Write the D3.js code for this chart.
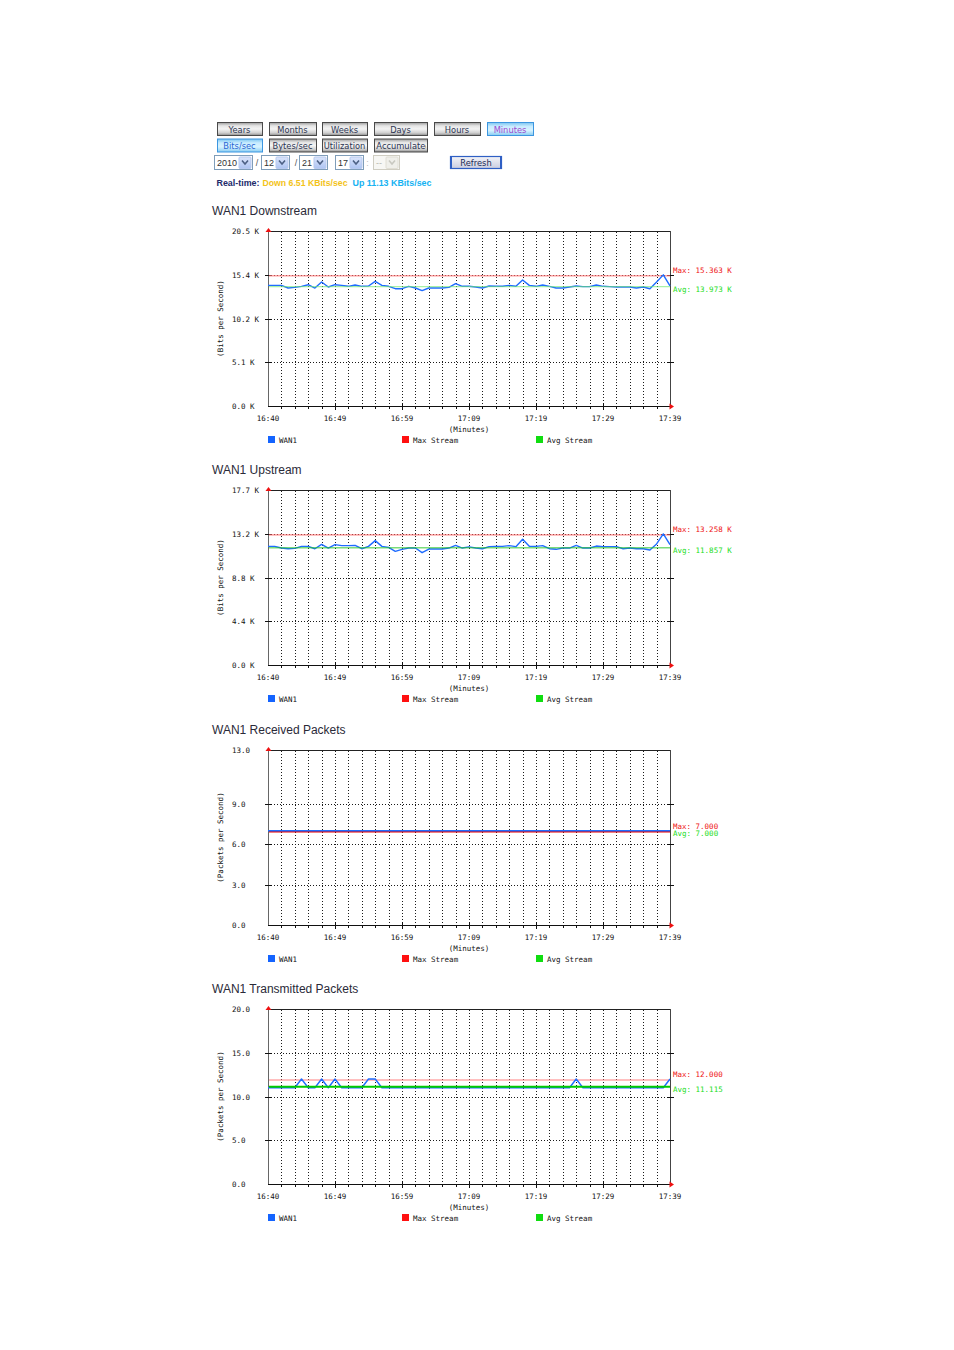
<!DOCTYPE html>
<html><head><meta charset="utf-8">
<script src="https://cdn.jsdelivr.net/npm/d3@7"></script>
<style>body{margin:0;background:#fff}svg{display:block}</style>
</head><body>
<svg id="c" width="954" height="1350"></svg>
<script>
// ---------------- data ----------------
const periodButtons = ["Years","Months","Weeks","Days","Hours","Minutes"];
const unitButtons = ["Bits/sec","Bytes/sec","Utilization","Accumulated"];
const selectValues = ["2010","12","21","17","--"];
const realtimeParts = ["Real-time:","Down 6.51 KBits/sec","Up 11.13 KBits/sec"];

const timeLabels = ["16:40","16:49","16:59","17:09","17:19","17:29","17:39"];
const timeLabelIdx = [0,10,20,30,40,50,60];
const chartTitles = ["WAN1 Downstream","WAN1 Upstream","WAN1 Received Packets","WAN1 Transmitted Packets"];
const yAxisTitles = ["(Bits per Second)","(Bits per Second)","(Packets per Second)","(Packets per Second)"];
const yMaxValues = [20.5, 17.7, 13.0, 20.0];
const yTickValues = [[0,5.1,10.2,15.4,20.5],[0,4.4,8.8,13.2,17.7],[0,3,6,9,13],[0,5,10,15,20]];
const yTickLabels = [["0.0 K","5.1 K","10.2 K","15.4 K","20.5 K"],
                     ["0.0 K","4.4 K","8.8 K","13.2 K","17.7 K"],
                     ["0.0","3.0","6.0","9.0","13.0"],
                     ["0.0","5.0","10.0","15.0","20.0"]];
const maxValues = [15.363, 13.258, 7.000, 12.000];
const avgValues = [13.973, 11.857, 7.000, 11.115];
const maxLabels = ["Max: 15.363 K","Max: 13.258 K","Max: 7.000","Max: 12.000"];
const avgLabels = ["Avg: 13.973 K","Avg: 11.857 K","Avg: 7.000","Avg: 11.115"];
const legendNames = ["WAN1","Max Stream","Avg Stream"];

const downstream = [14.13,14.13,14.13,13.82,13.90,14.02,14.21,13.82,14.52,13.94,
                    14.21,14.13,14.02,14.17,14.02,14.06,14.60,14.13,14.02,13.74,
                    13.74,14.02,13.82,13.51,13.82,13.82,13.82,13.90,14.33,14.02,
                    14.02,13.94,13.82,14.06,14.02,14.02,14.13,14.02,14.76,14.13,
                    14.02,14.17,14.02,13.82,13.82,13.94,14.06,13.98,13.98,14.17,
                    14.02,13.98,13.94,13.94,13.94,13.82,13.94,13.74,14.52,15.363,14.06];
const upstream = [12.00,12.00,11.83,11.76,11.80,12.00,12.00,11.76,12.20,11.83,
                  12.17,12.07,12.07,12.10,11.76,12.00,12.58,12.00,11.90,11.50,
                  11.70,11.83,11.83,11.36,11.73,11.73,11.73,11.83,12.10,11.83,
                  11.95,11.83,11.76,11.97,12.00,12.00,12.07,11.97,12.71,12.00,
                  12.00,12.07,11.76,11.70,11.83,11.83,12.10,11.83,11.83,12.03,
                  11.97,11.97,11.97,11.76,11.83,11.76,11.76,11.63,12.24,13.258,12.17];
const received = [7,7,7,7,7,7,7,7,7,7, 7,7,7,7,7,7,7,7,7,7, 7,7,7,7,7,7,7,7,7,7,
                  7,7,7,7,7,7,7,7,7,7, 7,7,7,7,7,7,7,7,7,7, 7,7,7,7,7,7,7,7,7,7, 7];
const transmitted = [11,11,11,11,11,12,11,11,12,11, 12,11,11,11,11,12,12,11,11,11,
                     11,11,11,11,11,11,11,11,11,11, 11,11,11,11,11,11,11,11,11,11,
                     11,11,11,11,11,11,12,11,11,11, 11,11,11,11,11,11,11,11,11,11, 12];
const seriesList = [downstream, upstream, received, transmitted];

// ---------------- styles ----------------
const avgColors = ["#6ee86e","#22c422","#00cc00","#00cc00"];
const avgWidths = [1.2,1.4,2,2];
const maxColors = ["#ff7373","#ff6a6a","#ee0000","#ff7f7f"];
const maxWidths = [1,1,1.6,1];
const MONO = "'DejaVu Sans Mono', monospace";
const MS = "7.5px";

const svg = d3.select("#c");
const defs = svg.append("defs");
function grad(id, stops){
  const g = defs.append("linearGradient").attr("id",id).attr("x1",0).attr("y1",0).attr("x2",0).attr("y2",1);
  stops.forEach(s=>g.append("stop").attr("offset",s[0]).attr("stop-color",s[1]));
}
grad("btnG",[[0,"#9a9a9a"],[0.25,"#e4e4e4"],[0.5,"#f4f4f4"],[0.8,"#cfcfcf"],[1,"#8a8a8a"]]);
grad("btnS",[[0,"#7cc4f0"],[0.3,"#c8ecff"],[0.6,"#d8f3ff"],[1,"#86cbf2"]]);
grad("arrG",[[0,"#dbe5fb"],[1,"#aec4f2"]]);
grad("refG",[[0,"#f4f4f8"],[1,"#c9cde0"]]);

// ---------------- controls ----------------
const row1X = [[217,262],[269,316],[322,367],[374,427],[434,480],[487,533]];
const row2X = [[217,262],[269,316],[322,367],[374,427]];
function buttons(names, xs, y0, y1, selected, selColor){
  names.forEach((n,i)=>{
    const sel = i===selected;
    const g = svg.append("g");
    const cid = "clip"+Math.round(y0)+"_"+i;
    defs.append("clipPath").attr("id",cid).append("rect")
      .attr("x",xs[i][0]+1).attr("y",y0).attr("width",xs[i][1]-xs[i][0]-2).attr("height",y1-y0);
    g.append("rect").attr("x",xs[i][0]+.5).attr("y",y0+.5).attr("width",xs[i][1]-xs[i][0]).attr("height",y1-y0)
      .attr("fill", sel?"url(#btnS)":"url(#btnG)").attr("stroke", sel?"#3c96e0":"#4a4a4a");
    g.append("text").attr("clip-path","url(#"+cid+")")
      .attr("x",(xs[i][0]+xs[i][1])/2+ (n==="Accumulated"?3:0)).attr("y",(y0+y1)/2+1)
      .attr("text-anchor","middle").attr("dominant-baseline","central")
      .attr("font-family","'DejaVu Sans', Verdana, sans-serif").attr("font-size","8.3px")
      .attr("fill", sel?selColor:"#2c3552").text(n);
  });
}
buttons(periodButtons,row1X,122,135,5,"#9a48d0");
buttons(unitButtons,row2X,138.5,151.5,0,"#2a66d4");

const selX = [[214,252],[261,289],[299,327],[335,363],[373,399]];
selectValues.forEach((v,i)=>{
  const dis = i===4;
  const [a,b] = selX[i];
  const g = svg.append("g");
  g.append("rect").attr("x",a+.5).attr("y",155.5).attr("width",b-a).attr("height",14)
    .attr("fill",dis?"#f7f7f4":"#fff").attr("stroke",dis?"#cfcdc2":"#7f9db9");
  g.append("rect").attr("x",b-13).attr("y",157).attr("width",12).attr("height",11.5)
    .attr("fill",dis?"#efefea":"url(#arrG)").attr("stroke",dis?"#e0ded4":"#b7c9ef").attr("rx",1);
  g.append("path").attr("d",`M${b-10},${160.5} L${b-7},${164} L${b-4},${160.5}`)
    .attr("fill","none").attr("stroke",dis?"#c8c8c0":"#4d6185").attr("stroke-width",1.6);
  g.append("text").attr("x",a+3).attr("y",163).attr("dominant-baseline","central")
    .attr("font-family","'Liberation Sans', Arial, sans-serif").attr("font-size","9px")
    .attr("fill",dis?"#b8b8b0":"#333").text(v);
});
[["/",257,"#555"],["/",296,"#555"],[":",367.5,"#bbb"]].forEach(s=>{
  svg.append("text").attr("x",s[1]).attr("y",163).attr("text-anchor","middle").attr("dominant-baseline","central")
    .attr("font-family","'Liberation Sans', Arial, sans-serif").attr("font-size","9px").attr("fill",s[2]).text(s[0]);
});
svg.append("rect").attr("x",450.5).attr("y",156.5).attr("width",51).attr("height",12)
  .attr("fill","url(#refG)").attr("stroke","#2f5fc4").attr("stroke-width",1.2);
svg.append("rect").attr("x",450).attr("y",156).attr("width",2).attr("height",13).attr("fill","#2f5fc4");
svg.append("rect").attr("x",500).attr("y",156).attr("width",2).attr("height",13).attr("fill","#2f5fc4");
svg.append("text").attr("x",476).attr("y",163).attr("text-anchor","middle").attr("dominant-baseline","central")
  .attr("font-family","'DejaVu Sans', Verdana, sans-serif").attr("font-size","8.3px").attr("fill","#1c2a55").text("Refresh");

const rtX = [[216.5,43],[262.5,85],[352.5,79]];
const rtCol = ["#222a6a","#f3c319","#15b2f2"];
realtimeParts.forEach((t,i)=>{
  svg.append("text").attr("x",rtX[i][0]).attr("y",182.5).attr("dominant-baseline","central")
    .attr("font-family","'Liberation Sans', Arial, sans-serif").attr("font-size","8.5px").attr("font-weight","bold")
    .attr("textLength",rtX[i][1]).attr("lengthAdjust","spacingAndGlyphs")
    .attr("fill",rtCol[i]).text(t);
});

// ---------------- charts ----------------
const X0 = 268, X1 = 670, PH = 175;
const plotTops = [231, 490, 750, 1009];
const x = d3.scaleLinear().domain([0,60]).range([X0,X1]);
const gridIdx = d3.range(2,60,2);
const px = v => Math.round(v)+.5;

chartTitles.forEach((title,k)=>{
  const top = plotTops[k], bot = top+PH;
  const y = d3.scaleLinear().domain([0,yMaxValues[k]]).range([bot,top]);
  const g = svg.append("g");

  g.append("text").attr("x",212).attr("y",top-20).attr("dominant-baseline","central")
    .attr("font-family","'Liberation Sans', Arial, sans-serif").attr("font-size","12px")
    .attr("fill","#2a2a38").text(title);

  // vertical dotted grid
  g.selectAll(".vg").data(gridIdx).join("line")
    .attr("x1",d=>px(x(d))).attr("x2",d=>px(x(d))).attr("y1",top+1).attr("y2",bot)
    .attr("stroke","#1a1a1a").attr("stroke-dasharray","1,2");
  // horizontal dotted grid
  const inner = yTickValues[k].slice(1,-1);
  g.selectAll(".hg").data(inner).join("line")
    .attr("x1",X0).attr("x2",X1).attr("y1",d=>px(y(d))).attr("y2",d=>px(y(d)))
    .attr("stroke","#1a1a1a").attr("stroke-dasharray","1,2");

  // frame
  g.append("line").attr("x1",X0).attr("x2",X1+.5).attr("y1",top+.5).attr("y2",top+.5).attr("stroke","#222");
  g.append("line").attr("x1",X1+.5).attr("x2",X1+.5).attr("y1",top).attr("y2",bot).attr("stroke","#444");
  g.append("line").attr("x1",X0+.5).attr("x2",X0+.5).attr("y1",top).attr("y2",bot+.5).attr("stroke","#666");
  g.append("line").attr("x1",X0).attr("x2",X1+1).attr("y1",bot+.5).attr("y2",bot+.5).attr("stroke","#111");

  // y ticks (crossing both sides)
  g.selectAll(".yt").data(inner).join("line")
    .attr("x1",X0-3).attr("x2",X0+4).attr("y1",d=>px(y(d))).attr("y2",d=>px(y(d))).attr("stroke","#111");
  g.selectAll(".yt2").data(inner).join("line")
    .attr("x1",X1-3).attr("x2",X1+4).attr("y1",d=>px(y(d))).attr("y2",d=>px(y(d))).attr("stroke","#111");
  // x ticks
  g.selectAll(".xt").data(gridIdx).join("line")
    .attr("x1",d=>px(x(d))).attr("x2",d=>px(x(d))).attr("y1",bot).attr("y2",bot+3).attr("stroke","#111");
  g.selectAll(".xm").data(timeLabelIdx.slice(1,-1)).join("line")
    .attr("x1",d=>px(x(d))).attr("x2",d=>px(x(d))).attr("y1",bot-3).attr("y2",bot+4).attr("stroke","#111");

  // arrows
  g.append("path").attr("d",`M${X0-2.5},${top+1} L${X0+3.5},${top+1} L${X0+.5},${top-3} Z`).attr("fill","#ee1111");
  g.append("path").attr("d",`M${X1-.5},${bot-2.5} L${X1-.5},${bot+3.5} L${X1+4},${bot+.5} Z`).attr("fill","#ee1111");

  // y tick labels
  g.selectAll(".yl").data(yTickValues[k]).join("text")
    .attr("x",232).attr("y",d=>y(d)+.5).attr("dominant-baseline","central")
    .attr("font-family",MONO).attr("font-size",MS).attr("fill","#111")
    .text((d,i)=>yTickLabels[k][i]);
  // x tick labels
  g.selectAll(".xl").data(timeLabelIdx).join("text")
    .attr("x",d=>x(d)).attr("y",bot+12.5).attr("text-anchor","middle").attr("dominant-baseline","central")
    .attr("font-family",MONO).attr("font-size",MS).attr("fill","#111")
    .text((d,i)=>timeLabels[i]);
  g.append("text").attr("x",x(30)).attr("y",bot+23.5).attr("text-anchor","middle").attr("dominant-baseline","central")
    .attr("font-family",MONO).attr("font-size",MS).attr("fill","#111").text("(Minutes)");
  g.append("text").attr("transform",`translate(220,${(top+bot)/2}) rotate(-90)`)
    .attr("text-anchor","middle").attr("dominant-baseline","central")
    .attr("font-family",MONO).attr("font-size",MS).attr("fill","#111").text(yAxisTitles[k]);

  // legend
  const legCols = ["#1464ff","#ff1010","#10dd10"];
  const legX = [x(0), x(20), x(40)];
  legendNames.forEach((n,i)=>{
    g.append("rect").attr("x",legX[i]).attr("y",bot+30).attr("width",7).attr("height",7).attr("fill",legCols[i]);
    g.append("text").attr("x",legX[i]+11).attr("y",bot+34).attr("dominant-baseline","central")
      .attr("font-family",MONO).attr("font-size",MS).attr("fill","#111").text(n);
  });

  // max & avg lines
  const yMax = y(maxValues[k]), yAvg = y(avgValues[k]);
  g.append("line").attr("x1",X0+1).attr("x2",X1).attr("y1",yMax+1).attr("y2",yMax+1)
    .attr("stroke",maxColors[k]).attr("stroke-width",maxWidths[k]);
  // data line
  const line = d3.line().x((d,i)=>x(i)).y(d=>y(d));
  g.append("path").datum(seriesList[k]).attr("d",line).attr("fill","none")
    .attr("stroke","#1f6cff").attr("stroke-width",1.4).attr("stroke-linejoin","round");
  if (k!==2) {
    g.append("line").attr("x1",X0+1).attr("x2",X1).attr("y1",yAvg).attr("y2",yAvg)
      .attr("stroke",avgColors[k]).attr("stroke-width",avgWidths[k]).attr("stroke-opacity",k<2?0.6:1);
  }

  // max/avg labels
  const maxLY = yMax-4.5, avgLY = Math.max(yAvg+3, maxLY+7);
  g.append("text").attr("x",673).attr("y",maxLY).attr("dominant-baseline","central")
    .attr("font-family",MONO).attr("font-size",MS).attr("fill","#ee1111").text(maxLabels[k]);
  g.append("text").attr("x",673).attr("y",avgLY).attr("dominant-baseline","central")
    .attr("font-family",MONO).attr("font-size",MS).attr("fill","#22dd22").text(avgLabels[k]);
});
</script>
</body></html>
